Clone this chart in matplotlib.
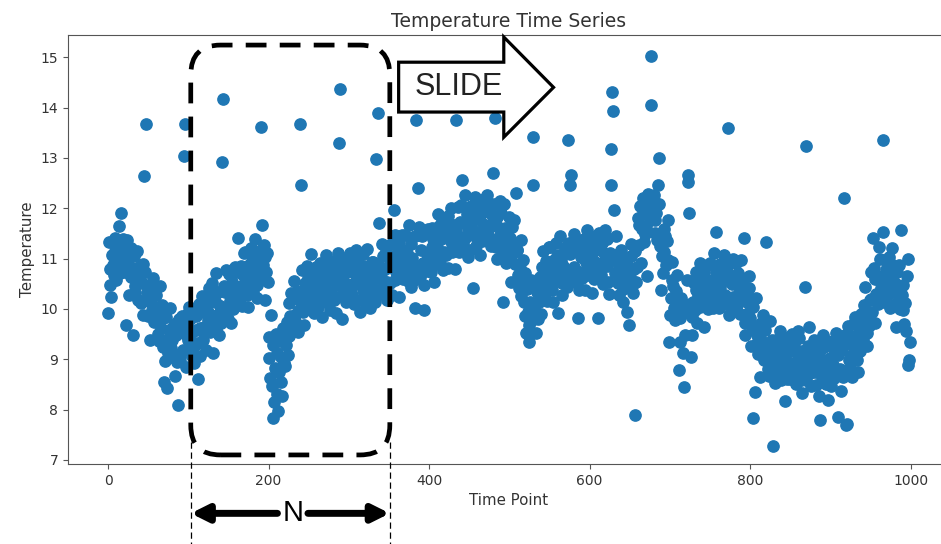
import numpy as np
import matplotlib.pyplot as plt
from matplotlib.patches import FancyBboxPatch, Polygon


# temperature readings, one list per 100 time points
temp_000 = [9.92, 11.33, 10.80, 10.48, 10.24, 11.07, 10.88, 10.67, 11.40, 11.16,
            10.58, 10.91, 11.27, 11.64, 11.15, 10.72, 11.90, 11.06, 10.86, 11.38,
            11.28, 10.74, 9.68, 10.97, 11.36, 11.14, 10.28, 10.84, 11.21, 10.64,
            10.63, 9.48, 11.05, 10.46, 10.31, 10.79, 11.16, 10.18, 10.54, 10.83,
            10.66, 10.12, 10.52, 10.89, 9.87, 12.64, 10.74, 13.67, 10.18, 10.33,
            9.85, 10.26, 9.39, 10.48, 10.14, 9.97, 10.62, 9.74, 10.33, 10.02,
            10.27, 9.77, 9.51, 9.91, 9.36, 10.46, 9.63, 10.08, 9.24, 9.81,
            8.55, 8.97, 9.84, 9.39, 8.43, 9.13, 9.59, 10.02, 9.23, 9.04,
            9.38, 9.64, 9.11, 8.67, 9.48, 9.73, 8.95, 8.10, 9.79, 9.04,
            8.96, 9.54, 9.86, 9.18, 13.04, 9.66, 13.67, 8.85, 9.47, 9.92]

temp_100 = [9.38, 10.03, 9.80, 9.21, 9.06, 9.54, 9.91, 8.93, 9.29, 9.58,
            9.86, 9.32, 8.60, 10.09, 9.07, 9.63, 9.94, 10.26, 9.38, 9.53,
            9.65, 10.06, 9.19, 10.28, 9.94, 9.77, 10.42, 9.54, 10.13, 9.82,
            10.52, 9.13, 9.76, 10.16, 9.61, 10.71, 9.88, 10.33, 9.49, 10.06,
            10.05, 9.72, 12.92, 14.17, 10.45, 9.88, 10.34, 10.77, 9.98, 9.79,
            10.43, 10.69, 10.16, 9.72, 10.53, 10.78, 10.00, 10.34, 10.84, 10.09,
            10.16, 10.74, 11.40, 10.38, 10.23, 10.86, 10.46, 10.05, 10.67, 11.12,
            10.77, 11.13, 10.60, 10.28, 10.04, 10.87, 10.68, 10.47, 11.20, 10.96,
            10.33, 10.66, 11.02, 11.39, 10.90, 10.47, 10.22, 10.81, 10.61, 11.13,
            11.18, 13.61, 11.67, 10.87, 11.26, 11.04, 10.18, 10.74, 11.11, 10.54]

temp_200 = [9.45, 9.02, 8.62, 9.88, 8.47, 7.84, 9.28, 8.15, 8.83, 9.51,
            8.32, 9.12, 7.98, 8.74, 9.36, 8.55, 9.05, 8.28, 9.62, 8.93,
            9.41, 8.86, 9.28, 9.74, 9.08, 10.12, 9.47, 9.85, 10.31, 9.56,
            9.66, 10.24, 10.56, 9.88, 9.73, 10.36, 9.96, 9.55, 10.17, 13.67,
            12.46, 10.78, 10.25, 9.93, 9.69, 10.52, 10.33, 10.12, 10.85, 10.61,
            10.03, 10.36, 10.72, 11.09, 10.60, 10.17, 9.92, 10.51, 10.31, 10.83,
            10.83, 10.29, 10.04, 10.52, 10.91, 10.69, 9.83, 10.39, 10.76, 10.19,
            10.43, 11.08, 10.85, 10.26, 10.11, 10.59, 10.96, 9.98, 10.34, 10.63,
            10.71, 10.17, 10.57, 10.94, 9.92, 10.48, 10.79, 11.11, 13.30, 14.37,
            10.25, 10.66, 9.79, 10.88, 10.54, 10.37, 11.02, 10.14, 10.73, 10.42]

temp_300 = [10.21, 10.79, 11.11, 10.43, 10.28, 10.91, 10.51, 10.10, 10.72, 11.17,
            10.67, 11.03, 10.50, 10.18, 9.94, 10.77, 10.58, 10.37, 11.10, 10.86,
            10.13, 10.46, 10.82, 11.19, 10.70, 10.27, 10.02, 10.61, 10.41, 10.93,
            10.93, 10.39, 10.14, 10.62, 12.98, 10.79, 13.89, 11.70, 10.86, 10.29,
            10.63, 11.28, 11.05, 10.46, 10.31, 10.79, 11.16, 10.18, 10.54, 10.83,
            11.06, 10.52, 10.92, 11.29, 10.27, 10.83, 11.96, 11.46, 10.58, 10.73,
            10.70, 11.11, 10.24, 11.33, 10.99, 10.82, 11.47, 10.59, 11.18, 10.87,
            11.47, 10.97, 10.71, 11.11, 10.56, 11.66, 10.83, 11.28, 10.44, 11.01,
            10.90, 10.57, 11.44, 10.02, 13.75, 10.73, 12.40, 11.62, 10.83, 10.64,
            11.18, 11.44, 10.91, 10.47, 9.98, 11.53, 10.75, 11.09, 11.59, 10.84]

temp_400 = [11.53, 10.99, 10.74, 11.22, 11.61, 11.39, 10.53, 11.09, 11.46, 10.89,
            11.23, 11.88, 11.65, 11.06, 10.91, 11.39, 11.76, 10.78, 11.14, 11.43,
            11.61, 11.07, 11.47, 11.84, 10.82, 11.38, 11.69, 12.01, 11.13, 11.28,
            11.25, 11.66, 10.79, 13.75, 11.54, 11.37, 12.02, 11.14, 11.73, 11.42,
            12.07, 12.56, 11.31, 11.71, 11.16, 12.26, 11.43, 11.88, 11.04, 11.61,
            11.50, 11.17, 12.04, 11.59, 11.90, 10.42, 11.79, 12.22, 11.43, 11.24,
            11.78, 12.04, 11.51, 11.07, 11.88, 12.13, 11.35, 11.69, 12.19, 11.44,
            11.36, 11.94, 12.26, 11.58, 11.43, 12.06, 11.66, 11.25, 11.87, 12.70,
            11.72, 12.08, 13.79, 11.23, 10.99, 11.82, 11.63, 11.42, 12.15, 11.91,
            11.03, 11.36, 10.14, 12.09, 11.60, 11.17, 10.92, 11.51, 11.31, 11.83]

temp_500 = [11.00, 11.41, 10.54, 11.63, 11.29, 11.12, 11.77, 10.89, 12.30, 11.17,
            11.17, 10.67, 10.41, 10.81, 10.26, 11.36, 10.53, 10.98, 10.14, 10.71,
            9.85, 9.52, 10.39, 9.94, 9.35, 9.68, 10.14, 10.57, 9.78, 13.41,
            12.46, 10.49, 9.96, 9.52, 10.33, 10.58, 9.80, 10.14, 10.64, 9.89,
            10.26, 10.84, 11.16, 10.48, 10.33, 10.96, 10.56, 10.15, 10.77, 11.22,
            10.87, 11.23, 10.70, 10.38, 10.14, 10.97, 10.78, 10.57, 11.30, 11.06,
            9.92, 10.71, 11.07, 11.44, 10.95, 10.52, 10.27, 10.86, 10.66, 11.18,
            11.23, 10.69, 10.44, 13.35, 11.31, 11.09, 12.46, 12.66, 11.16, 10.59,
            10.83, 11.48, 11.25, 10.66, 10.51, 9.82, 11.36, 10.38, 10.74, 11.03,
            11.16, 10.62, 11.02, 11.39, 10.37, 10.93, 11.24, 11.56, 10.68, 10.83]

temp_600 = [11.03, 11.29, 10.76, 10.32, 11.13, 11.38, 10.60, 10.94, 11.44, 10.69,
            9.82, 11.19, 11.51, 10.83, 10.68, 11.31, 10.91, 10.50, 11.12, 11.57,
            11.02, 11.38, 10.85, 10.53, 10.29, 11.12, 13.17, 12.46, 14.30, 13.93,
            11.96, 10.71, 11.07, 11.44, 10.95, 10.52, 10.27, 10.86, 10.66, 11.18,
            10.93, 10.39, 10.14, 10.62, 11.01, 10.79, 9.93, 10.49, 10.86, 9.68,
            10.63, 11.28, 11.05, 10.46, 10.31, 10.79, 11.16, 7.90, 10.54, 10.83,
            11.81, 11.27, 11.67, 12.04, 10.92, 11.58, 11.89, 12.21, 11.33, 11.48,
            11.65, 12.06, 10.65, 12.28, 11.94, 11.77, 15.02, 14.05, 12.13, 11.82,
            12.27, 11.77, 11.51, 11.91, 11.36, 12.46, 13.00, 12.08, 11.24, 10.38,
            11.05, 10.72, 11.59, 11.14, 11.45, 10.88, 11.34, 11.77, 10.98, 9.35]

temp_700 = [9.88, 10.21, 10.57, 10.94, 10.45, 10.02, 9.77, 10.36, 10.16, 10.68,
            10.13, 8.79, 9.34, 9.82, 10.21, 9.99, 9.13, 8.45, 10.06, 9.49,
            9.93, 10.58, 12.52, 12.66, 11.90, 10.09, 9.05, 9.48, 9.84, 10.13,
            10.51, 9.97, 10.37, 10.74, 9.72, 10.28, 10.59, 10.91, 10.03, 10.18,
            10.10, 10.51, 9.64, 10.73, 10.39, 10.22, 10.87, 9.99, 10.58, 10.27,
            10.92, 10.42, 10.16, 10.56, 10.01, 11.11, 10.28, 10.73, 11.53, 10.46,
            10.35, 10.02, 10.89, 10.44, 10.75, 10.18, 10.64, 11.07, 10.28, 10.09,
            10.58, 10.84, 13.60, 9.87, 10.68, 10.93, 10.15, 10.49, 10.99, 10.24,
            10.01, 10.59, 10.91, 10.23, 10.08, 10.71, 10.31, 9.90, 10.52, 10.97,
            10.22, 10.58, 11.40, 9.73, 9.49, 10.32, 10.13, 9.92, 10.65, 10.41]

temp_800 = [9.81, 9.27, 9.67, 10.04, 7.83, 9.58, 8.35, 10.21, 9.33, 9.48,
            9.10, 9.51, 8.64, 9.73, 9.39, 9.22, 9.87, 8.99, 9.58, 9.27,
            11.33, 9.07, 8.81, 9.21, 8.66, 9.76, 8.93, 9.38, 7.28, 9.11,
            8.85, 8.52, 9.39, 8.94, 9.25, 8.68, 9.14, 9.57, 8.78, 8.59,
            9.03, 9.29, 8.76, 8.17, 9.13, 9.38, 8.60, 8.94, 9.44, 8.69,
            8.61, 9.19, 9.51, 8.83, 8.68, 9.31, 8.91, 8.50, 9.12, 9.57,
            9.07, 9.43, 8.90, 8.58, 8.34, 9.17, 8.98, 8.77, 10.44, 13.23,
            8.58, 8.91, 9.27, 9.64, 9.15, 8.72, 8.47, 9.06, 8.86, 9.38,
            9.28, 8.74, 8.49, 8.97, 9.36, 9.14, 8.28, 7.80, 9.21, 8.64,
            8.83, 9.48, 9.25, 8.66, 8.51, 8.99, 9.36, 8.19, 8.74, 9.03]

temp_900 = [8.80, 8.47, 9.34, 8.89, 9.20, 8.63, 9.09, 9.52, 8.73, 7.86,
            9.08, 9.34, 8.81, 8.37, 9.18, 9.43, 8.65, 12.20, 9.49, 7.70,
            7.72, 9.34, 9.66, 8.98, 8.83, 9.46, 9.06, 8.65, 9.27, 9.72,
            9.47, 9.83, 9.30, 8.98, 8.74, 9.57, 9.38, 9.17, 9.90, 9.66,
            9.38, 9.71, 10.07, 10.44, 9.95, 9.52, 9.27, 9.86, 9.66, 10.18,
            10.73, 10.19, 9.94, 11.40, 10.81, 10.59, 9.73, 10.29, 10.66, 10.09,
            10.58, 11.23, 11.00, 10.41, 10.26, 11.53, 13.35, 10.13, 10.49, 10.78,
            10.81, 10.27, 10.67, 11.04, 10.02, 10.58, 10.89, 11.21, 10.33, 10.48,
            10.10, 10.51, 9.64, 10.73, 10.39, 10.22, 10.87, 9.99, 11.57, 10.27,
            10.47, 9.97, 9.71, 10.11, 9.56, 10.66, 11.00, 8.89, 8.99, 9.35]

temperature = np.concatenate([temp_000, temp_100, temp_200, temp_300, temp_400,
                              temp_500, temp_600, temp_700, temp_800, temp_900])
time_point = np.arange(len(temperature))

# window start/end (time points)
win_start, win_end = 103, 351

fig = plt.figure(figsize=(9.41, 5.44), dpi=100)
ax = fig.add_axes([68 / 941, 80 / 544, 882 / 941, 429 / 544])

ax.scatter(time_point, temperature, s=66, color='#1f77b4', zorder=2)

ax.set_xlim(-49.95, 1048.95)
ax.set_ylim(6.92, 15.44)
ax.set_xticks(np.arange(0, 1001, 200))
ax.set_yticks(np.arange(7, 16, 1))
ax.set_title('Temperature Time Series', fontsize=13.5, color='#333333')
ax.set_xlabel('Time Point', fontsize=10.8, color='#333333')
ax.set_ylabel('Temperature', fontsize=10.8, color='#333333')
ax.tick_params(labelsize=10, labelcolor='#333333', color='#555555')
for sp in ax.spines.values():
    sp.set_color('#555555')

# dashed rounded window
px_x = 882 / 1098.9   # pixels per time unit
px_y = 429 / 8.52     # pixels per degree
box = FancyBboxPatch((win_start, 7.10), win_end - win_start, 15.24 - 7.10,
                     boxstyle='round,pad=0,rounding_size=37',
                     mutation_aspect=px_x / px_y,
                     fill=False, edgecolor='black', lw=3.4,
                     linestyle=(0, (4.4, 2.8)), clip_on=False, zorder=4)
ax.add_patch(box)

# thin guide lines down to the N arrow
for xv in (win_start, win_end):
    ax.plot([xv, xv], [7.35, 5.3], color='black', lw=0.9,
            linestyle=(0, (5, 3)), clip_on=False, zorder=4)

# N double arrow under the axis
n_y = 5.94
n_x = (win_start + win_end) / 2
arrow_style = dict(arrowstyle='-|>,head_length=1.0,head_width=0.5',
                   lw=5, color='black', shrinkA=0, shrinkB=0)
ax.annotate('', xy=(win_start, n_y), xytext=(n_x - 16, n_y),
            arrowprops=arrow_style, annotation_clip=False)
ax.annotate('', xy=(win_end, n_y), xytext=(n_x + 22, n_y),
            arrowprops=arrow_style, annotation_clip=False)
ax.text(n_x + 3, n_y, 'N', fontsize=21, family='Liberation Sans',
        ha='center', va='center', clip_on=False)

# SLIDE block arrow
slide_pts = [(362, 14.90), (493, 14.90), (493, 15.40), (555, 14.40),
             (493, 13.41), (493, 13.91), (362, 13.91)]
ax.add_patch(Polygon(slide_pts, closed=True, facecolor='white',
                     edgecolor='black', lw=2.3, joinstyle='miter',
                     clip_on=False, zorder=5))
ax.text(437, 14.40, 'SLIDE', fontsize=22, family='Liberation Sans',
        color='#222222', ha='center', va='center', zorder=6)

fig.savefig('out.png', dpi=100)
